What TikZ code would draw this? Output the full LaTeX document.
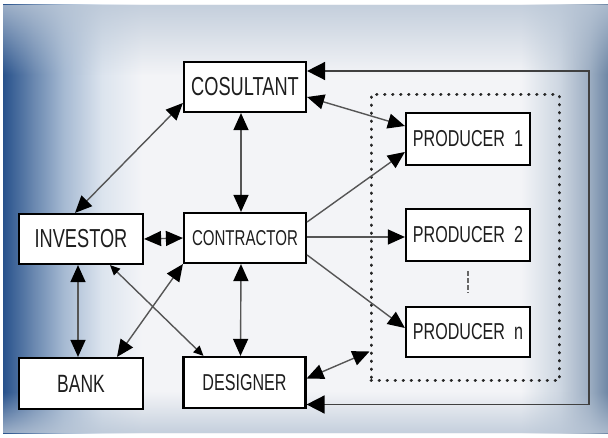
\documentclass[tikz,border=0pt]{standalone}
\usepackage{fontspec}
\newfontfamily\boxfont[FakeStretch=0.7]{Liberation Sans}
\usetikzlibrary{arrows.meta,calc,fadings,shadows}
\definecolor{BgDark}{RGB}{40,82,140}
\definecolor{BgA}{RGB}{105,135,175}
\definecolor{BgB}{RGB}{165,185,210}
\definecolor{BgC}{RGB}{220,228,238}
\definecolor{BgWhite}{RGB}{243,244,247}
\definecolor{BgD}{RGB}{205,214,225}
\definecolor{BgE}{RGB}{155,172,193}
\definecolor{BgF}{RGB}{110,135,165}
\definecolor{BgTop}{RGB}{185,198,214}
\definecolor{LinkClr}{RGB}{85,85,85}
\definecolor{TextClr}{RGB}{30,30,30}

\pgfdeclarehorizontalshading{BgShade}{100bp}{color(0bp)=(BgDark); color(25bp)=(BgDark); color(27.5bp)=(BgA); color(30bp)=(BgB); color(33.2bp)=(BgC); color(36.5bp)=(BgWhite); color(67.8bp)=(BgWhite); color(71bp)=(BgD); color(73.5bp)=(BgE); color(75bp)=(BgF); color(100bp)=(BgF)}
\tikzfading[name=FadeDown, top color=transparent!0, bottom color=transparent!100]
\tikzfading[name=FadeUp, top color=transparent!100, bottom color=transparent!0]

\newcommand{\boxsize}[1]{\boxfont\fontsize{#1}{#1}\selectfont}

\begin{document}
\begin{tikzpicture}[x=1pt,y=-1pt,
  box/.style={draw=black,line width=2.2pt,fill=white,inner sep=0pt,
    minimum width=122pt,minimum height=50pt,text=TextClr,
    font=\boxsize{24},
    drop shadow={shadow xshift=1pt,shadow yshift=-1pt,fill=black!70,opacity=.8}},
  prodbox/.style={box,minimum width=124pt,minimum height=52pt,font=\boxsize{23}},
  prodframe/.style={draw=black!85,line width=3pt,line cap=round,dash pattern=on 0.5pt off 7.5pt,
    minimum width=188pt,minimum height=286pt,inner sep=0pt},
  link/.style={draw=LinkClr,line width=1.4pt,{Triangle[length=17pt,width=15pt,color=black]}-{Triangle[length=17pt,width=15pt,color=black]}},
  oneway/.style={draw=LinkClr,line width=1.4pt,-{Triangle[length=17pt,width=15pt,color=black]}},
  smalltips/.style={{Triangle[length=10pt,width=9pt,color=black]}-{Triangle[length=10pt,width=9pt,color=black]}},
  backline/.style={draw=black!75,line width=1.6pt,{Triangle[length=18pt,width=18pt,color=black]}-{Triangle[length=18pt,width=18pt,color=black]}},
  dashline/.style={draw=black!60,line width=1.2pt,dash pattern=on 5pt off 2pt}]

\useasboundingbox (0,0) rectangle (608,438);
\fill[white] (0,0) rectangle (608,438);
\shade[shading=BgShade] (3,5) rectangle (608,433);
\fill[BgTop,fill opacity=.8,path fading=FadeDown] (3,5) rectangle (608,75);
\fill[BgTop,fill opacity=.8,path fading=FadeUp] (3,392) rectangle (608,433);

\node[prodframe] (prods) at (465,238) {};

\node[box,font=\boxsize{26}] (cons) at (245,87) {COSULTANT};
\node[box,minimum width=124pt,font=\boxsize{26}] (inv) at (81,239) {INVESTOR};
\node[box,font=\boxsize{21.5}] (contr) at (245,238) {CONTRACTOR};
\node[box,minimum width=124pt,minimum height=51pt,font=\boxsize{25}] (bank) at (81,383.5) {BANK};
\node[box,minimum height=51pt,font=\boxsize{23}] (design) at (244.5,382.5) {DESIGNER};

\node[prodbox] (prod1) at (468,139) {PRODUCER\ \ 1};
\node[prodbox] (prod2) at (468,235) {PRODUCER\ \ 2};
\node[prodbox,minimum height=50pt] (prodn) at (468,332) {PRODUCER\ \ n};

\draw[link] ([xshift=-6pt]inv.north) -- ([yshift=-16pt]cons.west);
\draw[link] ([xshift=-4pt]cons.south) -- ([xshift=-4pt]contr.north);
\draw[link] ([yshift=-10pt]cons.east) -- ([yshift=13pt]prod1.west);
\draw[link] (inv.east) -- (contr.west);

\draw[oneway] ([yshift=16pt]contr.east) -- ([yshift=-13pt]prod1.west);
\draw[oneway] ([yshift=1pt]contr.east) -- ([yshift=1pt]contr.east -| prod2.west);
\draw[oneway] ([yshift=-17pt]contr.east) -- ([yshift=4pt]prodn.west);

\draw[link] ([xshift=-4pt]contr.south) -- ([xshift=-4pt]design.north);
\draw[link] (contr.south west) -- ([xshift=36pt]bank.north);
\draw[link,smalltips] ([xshift=29pt]inv.south) -- ([xshift=-41pt]design.north);
\draw[link] ([xshift=-3pt]inv.south) -- ([xshift=-3pt]bank.north);
\draw[link] ([yshift=4pt]design.east) -- ([yshift=31pt]prods.south west);

\coordinate (loopr) at (589,238);
\draw[backline] ([yshift=16pt]cons.east) -| (loopr) |- ([yshift=-22pt]design.east);

\draw[dashline] ([yshift=-9pt]prod2.south) -- ([yshift=13pt]prodn.north);

\end{tikzpicture}
\end{document}
